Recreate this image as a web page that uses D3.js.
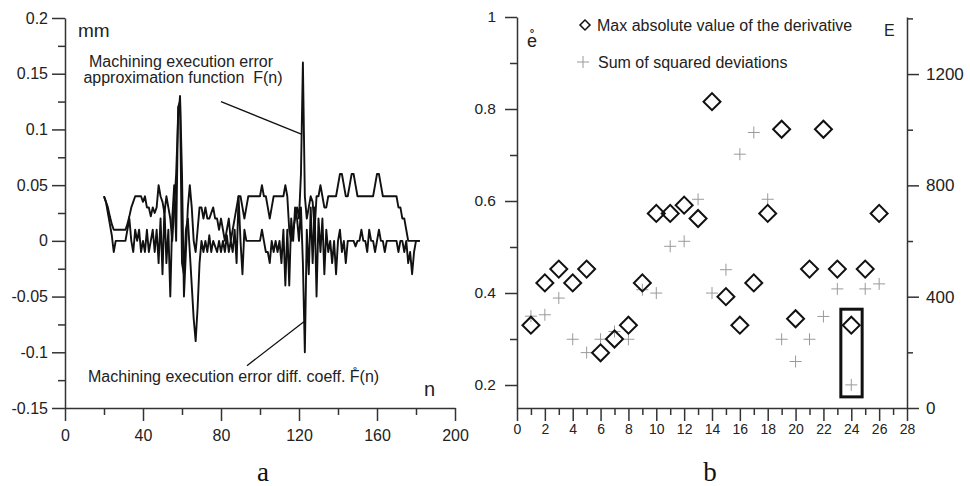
<!DOCTYPE html>
<html>
<head>
<meta charset="utf-8">
<script src="https://cdn.jsdelivr.net/npm/d3@7"></script>
<style>
body { margin: 0; background: #fff; }
svg { font-family: "Liberation Sans", Arial, sans-serif; }
.tick text { fill: #222; }
.domain, .tick line { stroke: #333; stroke-width: 1.5; }
</style>
</head>
<body>
<div id="chart"></div>
<script>
// ---- panel a data: one value per n, starting at n = 20
const nStart = 20;
const approxF = [
  0.040, 0.035, 0.030, 0.022, 0.015, 0.010, 0.010, 0.010, 0.010, 0.010,   // 20-29
  0.010, 0.010, 0.015, 0.022, 0.030, 0.035, 0.040, 0.040, 0.040, 0.040,   // 30-39
  0.035, 0.040, 0.030, 0.030, 0.022, 0.030, 0.025, 0.030, 0.050, 0.040,   // 40-49
  0.035, 0.025, 0.040, 0.030, 0.020, 0.000, 0.030, 0.060, 0.110, 0.130,   // 50-59
  0.060, -0.050, -0.010, 0.030, 0.050, 0.030, 0.000, -0.010, 0.010, 0.030, // 60-69
  0.030, 0.020, 0.030, 0.020, 0.020, 0.025, 0.030, 0.020, 0.020, 0.010,   // 70-79
  0.020, 0.010, 0.000, 0.010, 0.020, 0.000, 0.010, 0.020, 0.030, 0.040,   // 80-89
  0.040, 0.030, 0.020, 0.030, 0.040, 0.040, 0.040, 0.040, 0.040, 0.040,   // 90-99
  0.040, 0.050, 0.040, 0.040, 0.030, 0.020, 0.030, 0.040, 0.040, 0.040,   // 100-109
  0.040, 0.040, 0.040, 0.050, 0.040, 0.010, 0.000, 0.010, 0.020, 0.030,   // 110-119
  0.020, 0.060, 0.160, 0.040, 0.020, 0.030, 0.040, 0.035, 0.010, 0.040,   // 120-129
  0.040, 0.050, 0.040, 0.030, 0.030, 0.040, 0.040, 0.040, 0.040, 0.040,   // 130-139
  0.050, 0.060, 0.060, 0.050, 0.040, 0.040, 0.050, 0.060, 0.060, 0.050,   // 140-149
  0.040, 0.040, 0.040, 0.040, 0.040, 0.040, 0.040, 0.040, 0.040, 0.050,   // 150-159
  0.060, 0.060, 0.050, 0.040, 0.040, 0.040, 0.040, 0.040, 0.040, 0.040,   // 160-169
  0.040, 0.030, 0.030, 0.020, 0.020, 0.010, 0.000, 0.000, 0.000, 0.000,   // 170-179
  0.000, 0.000, 0.000                                                     // 180-182
];
const diffF = [
  0.040, 0.035, 0.025, 0.015, 0.005, -0.010, 0.000, 0.000, 0.000, 0.000,
  0.000, 0.000, 0.010, 0.020, 0.000, -0.010, 0.010, 0.000, 0.010, -0.010,
  0.000, -0.010, 0.010, -0.010, 0.000, 0.010, -0.010, 0.010, -0.020, 0.020,
  -0.030, 0.030, -0.020, 0.010, -0.050, 0.020, 0.050, 0.000, 0.120, 0.125,
  -0.020, -0.030, 0.010, 0.020, -0.010, -0.040, -0.070, -0.090, -0.060, -0.020,
  0.000, -0.010, 0.000, -0.010, 0.005, -0.010, 0.000, -0.005, -0.010, 0.000,
  -0.010, 0.000, -0.010, 0.005, -0.010, 0.000, -0.010, 0.010, -0.020, 0.040,
  0.000, -0.030, 0.010, 0.000, 0.000, 0.000, 0.000, 0.000, 0.000, 0.000,
  0.000, 0.010, 0.000, -0.010, -0.010, -0.020, 0.000, -0.010, 0.000, -0.010,
  0.000, -0.020, 0.010, -0.040, 0.010, -0.040, 0.020, 0.000, 0.030, 0.020,
  0.000, 0.030, -0.020, -0.100, 0.010, -0.030, 0.030, -0.020, 0.030, -0.050,
  0.020, -0.010, 0.020, -0.030, 0.010, -0.010, 0.000, -0.020, 0.000, -0.030,
  0.000, 0.010, -0.010, 0.000, -0.020, 0.000, 0.000, 0.000, 0.000, -0.005,
  0.000, 0.000, 0.010, 0.000, 0.000, -0.010, 0.010, 0.000, 0.000, -0.010,
  0.000, 0.010, 0.000, 0.000, -0.010, 0.000, 0.000, 0.000, 0.000, 0.000,
  0.000, -0.010, 0.000, 0.000, -0.010, 0.000, -0.020, -0.010, -0.030, -0.010,
  0.000, 0.000, 0.000
];
const xTicksA = [0, 40, 80, 120, 160, 200];
const xMinorA = [20, 60, 100, 140, 180];
const yTicksA = [-0.15, -0.1, -0.05, 0, 0.05, 0.1, 0.15, 0.2];
const yMinorA = [-0.125, -0.075, -0.025, 0.025, 0.075, 0.125, 0.175];

// ---- panel b data
const runs = [1, 2, 3, 4, 5, 6, 7, 8, 9, 10, 11, 12, 13, 14, 15, 16, 17, 18, 19, 20, 21, 22, 23, 24, 25, 26];
const maxDeriv = [0.33, 0.422, 0.452, 0.422, 0.452, 0.27, 0.30, 0.33, 0.422, 0.573, 0.573, 0.591, 0.562,
                  0.816, 0.392, 0.33, 0.422, 0.573, 0.756, 0.344, 0.452, 0.756, 0.452, 0.33, 0.452, 0.573];
const sumSq = [330, 335, 395, 247, 199, 247, 275, 247, 425, 413, 581, 599, 750,
               413, 497, 912, 990, 750, 247, 167, 247, 329, 428, 83, 428, 446];
const xTicksB = [0, 2, 4, 6, 8, 10, 12, 14, 16, 18, 20, 22, 24, 26, 28];
const xMinorB = [1, 3, 5, 7, 9, 11, 13, 15, 17, 19, 21, 23, 25, 27];
const yTicksB = [0.2, 0.4, 0.6, 0.8, 1];
const yMinorB = [0.3, 0.5, 0.7, 0.9];
const eTicks = [0, 400, 800, 1200];
const eMinor = [200, 600, 1000, 1400];
// highlighted run 24 (box in run / E units)
const box = { x0: 23.25, x1: 24.78, e0: 40, e1: 355 };

const svg = d3.select("#chart").append("svg")
    .attr("width", 970)
    .attr("height", 486);

function styleAxis(g, size) {
  g.attr("font-family", null).attr("font-size", size);
}

// ===================== panel a =====================
const xa = d3.scaleLinear().domain([0, 200]).range([65, 455]);
const ya = d3.scaleLinear().domain([-0.15, 0.2]).range([408, 18]);

svg.append("g")
    .attr("transform", "translate(65,0)")
    .call(d3.axisLeft(ya).tickValues(yTicksA).tickSize(13).tickSizeOuter(0).tickPadding(4).tickFormat(d => String(d)))
    .call(styleAxis, 16);
svg.append("g")
    .attr("transform", "translate(65,0)")
    .call(d3.axisLeft(ya).tickValues(yMinorA).tickSize(7).tickFormat(""))
    .call(g => g.select(".domain").remove());

svg.append("g")
    .attr("transform", "translate(0,408)")
    .call(d3.axisBottom(xa).tickValues(xTicksA).tickSize(13).tickSizeOuter(0).tickPadding(9))
    .call(styleAxis, 16);
svg.append("g")
    .attr("transform", "translate(0,408)")
    .call(d3.axisBottom(xa).tickValues(xMinorA).tickSize(7).tickFormat(""))
    .call(g => g.select(".domain").remove());

const lineA = d3.line()
    .x((d, i) => xa(nStart + i))
    .y(d => ya(d));

[diffF, approxF].forEach(s => {
  svg.append("path")
      .datum(s)
      .attr("fill", "none")
      .attr("stroke", "#111")
      .attr("stroke-width", 1.9)
      .attr("stroke-linejoin", "round")
      .attr("d", lineA);
});

// annotations
svg.append("line")
    .attr("x1", xa(80)).attr("y1", ya(0.125))
    .attr("x2", xa(121.5)).attr("y2", ya(0.0955))
    .attr("stroke", "#111").attr("stroke-width", 1.3);
svg.append("line")
    .attr("x1", xa(93.3)).attr("y1", ya(-0.112))
    .attr("x2", xa(123)).attr("y2", ya(-0.072))
    .attr("stroke", "#111").attr("stroke-width", 1.3);

const annA = svg.append("g").attr("font-size", 16).attr("fill", "#222");
annA.append("text").attr("x", 181).attr("y", 67).attr("text-anchor", "middle").text("Machining execution error");
annA.append("text").attr("x", 183).attr("y", 83).attr("text-anchor", "middle").text("approximation function\u00A0\u00A0F(n)");
annA.append("text").attr("x", 88).attr("y", 382).text("Machining execution error diff. coeff. F\u030A(n)");

svg.append("text").attr("x", 78).attr("y", 37).attr("font-size", 19).attr("fill", "#222").text("mm");
svg.append("text").attr("x", 424).attr("y", 396).attr("font-size", 20).attr("fill", "#222").text("n");

// ===================== panel b =====================
const xb = d3.scaleLinear().domain([0, 28]).range([517, 907]);
const yb = d3.scaleLinear().domain([0.15, 1]).range([408, 17]);
const eb = d3.scaleLinear().domain([0, 1405]).range([408, 17]);

svg.append("g")
    .attr("transform", "translate(517,0)")
    .call(d3.axisLeft(yb).tickValues(yTicksB).tickSize(12).tickSizeOuter(0).tickPadding(9).tickFormat(d => String(d)))
    .call(styleAxis, 15.5);
svg.append("g")
    .attr("transform", "translate(517,0)")
    .call(d3.axisLeft(yb).tickValues(yMinorB).tickSize(7).tickFormat(""))
    .call(g => g.select(".domain").remove());

svg.append("g")
    .attr("transform", "translate(907,0)")
    .call(d3.axisRight(eb).tickValues(eTicks).tickSize(12).tickSizeOuter(0).tickPadding(7).tickFormat(d => String(d)))
    .call(styleAxis, 17);
svg.append("g")
    .attr("transform", "translate(907,0)")
    .call(d3.axisRight(eb).tickValues(eMinor).tickSize(6).tickFormat(""))
    .call(g => g.select(".domain").remove());

svg.append("g")
    .attr("transform", "translate(0,408)")
    .call(d3.axisBottom(xb).tickValues(xTicksB).tickSize(13).tickSizeOuter(0).tickPadding(3))
    .call(styleAxis, 14);
svg.append("g")
    .attr("transform", "translate(0,408)")
    .call(d3.axisBottom(xb).tickValues(xMinorB).tickSize(7).tickFormat(""))
    .call(g => g.select(".domain").remove());

// sum of squared deviations: light plus markers
const plus = svg.append("g").attr("stroke", "#9a9a9a").attr("stroke-width", 1);
runs.forEach((r, i) => {
  const cx = xb(r), cy = eb(sumSq[i]);
  plus.append("line").attr("x1", cx - 6).attr("x2", cx + 6).attr("y1", cy).attr("y2", cy);
  plus.append("line").attr("x1", cx).attr("x2", cx).attr("y1", cy - 6).attr("y2", cy + 6);
});

// max derivative: open diamonds
const diamond = d3.symbol(d3.symbolSquare, 144);
svg.append("g").selectAll("path")
    .data(runs)
    .join("path")
    .attr("d", diamond)
    .attr("transform", (d, i) => `translate(${xb(d)},${yb(maxDeriv[i])}) rotate(45)`)
    .attr("fill", "none")
    .attr("stroke", "#111")
    .attr("stroke-width", 2);

// highlight box
svg.append("rect")
    .attr("x", xb(box.x0))
    .attr("y", eb(box.e1))
    .attr("width", xb(box.x1) - xb(box.x0))
    .attr("height", eb(box.e0) - eb(box.e1))
    .attr("fill", "none")
    .attr("stroke", "#111")
    .attr("stroke-width", 3);

// legend
const leg = svg.append("g").attr("font-size", 16).attr("fill", "#222");
leg.append("path")
    .attr("d", d3.symbol(d3.symbolSquare, 50))
    .attr("transform", "translate(585,25) rotate(45)")
    .attr("fill", "none").attr("stroke", "#111").attr("stroke-width", 1.5);
leg.append("text").attr("x", 597).attr("y", 31).text("Max absolute value of the derivative");
leg.append("line").attr("x1", 577).attr("x2", 589).attr("y1", 62).attr("y2", 62).attr("stroke", "#9a9a9a");
leg.append("line").attr("x1", 583).attr("x2", 583).attr("y1", 56).attr("y2", 68).attr("stroke", "#9a9a9a");
leg.append("text").attr("x", 598).attr("y", 68).text("Sum of squared deviations");

svg.append("text").attr("x", 527).attr("y", 47).attr("font-size", 18).attr("fill", "#222").text("e\u030A");
svg.append("text").attr("x", 884).attr("y", 36).attr("font-size", 16).attr("fill", "#222").text("E");

// panel letters
const letters = svg.append("g").attr("font-family", "'Liberation Serif', 'Times New Roman', serif").attr("fill", "#111");
letters.append("text").attr("x", 263).attr("y", 481).attr("text-anchor", "middle").attr("font-size", 27).text("a");
letters.append("text").attr("x", 710).attr("y", 481).attr("text-anchor", "middle").attr("font-size", 27).text("b");
</script>
</body>
</html>
